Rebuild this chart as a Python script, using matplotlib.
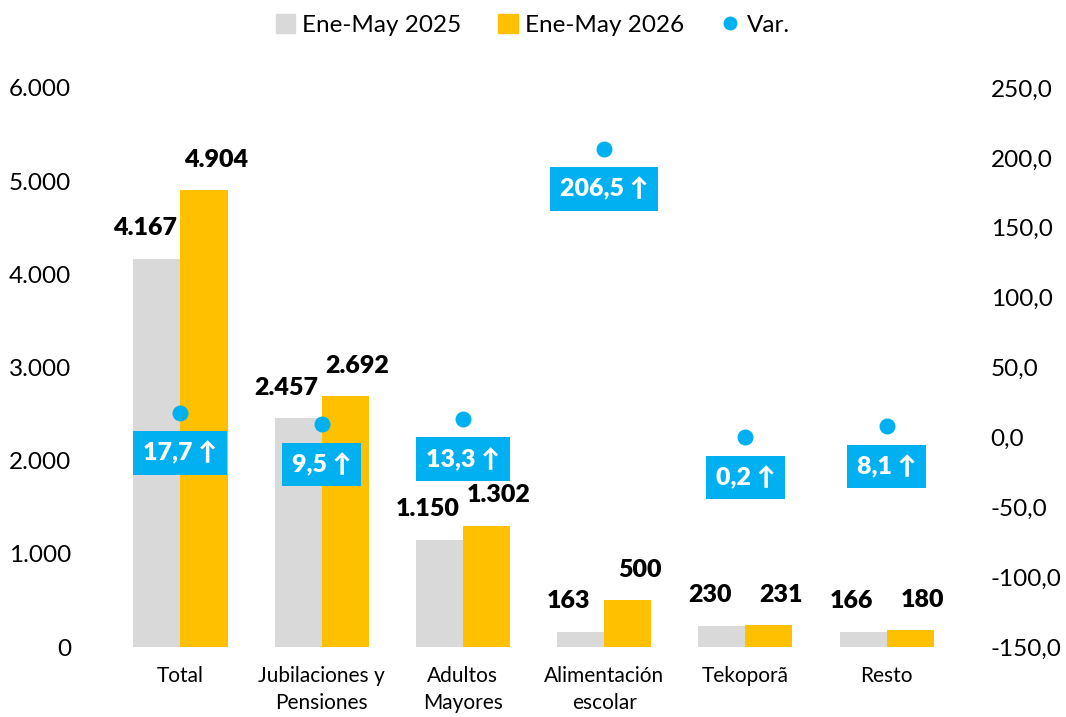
import numpy as np
import matplotlib.pyplot as plt
from matplotlib.lines import Line2D
from matplotlib.patches import Patch

categories = ['Total', 'Jubilaciones y\nPensiones', 'Adultos\nMayores',
              'Alimentación\nescolar', 'Tekoporã', 'Resto']
ene_may_2025 = [4167, 2457, 1150, 163, 230, 166]
ene_may_2026 = [4904, 2692, 1302, 500, 231, 180]
variacion = [17.7, 9.5, 13.3, 206.5, 0.2, 8.1]

gray = '#D9D9D9'
gold = '#FFC000'
blue = '#00B0F0'

plt.rcParams['font.family'] = ['Lato', 'DejaVu Sans']

def miles(v):
    return f'{v:,.0f}'.replace(',', '.')

def coma(v):
    return f'{v:.1f}'.replace('.', ',')

fig = plt.figure(figsize=(10.66, 7.17), dpi=100)
ax = fig.add_axes([0.103, 0.0976, 0.795, 0.7797])
ax2 = ax.twinx()

x = np.arange(len(categories))
w = 1 / 3
b1 = ax.bar(x - w / 2, ene_may_2025, w, color=gray)
b2 = ax.bar(x + w / 2, ene_may_2026, w, color=gold)

for xi, v in zip(x, ene_may_2025):
    ax.annotate(miles(v), (xi - w / 2, v), xytext=(-8.6, 22), textcoords='offset points',
                ha='center', va='center', fontsize=18, fontweight='heavy')
for xi, v in zip(x, ene_may_2026):
    ax.annotate(miles(v), (xi + w / 2, v), xytext=(8.6, 22), textcoords='offset points',
                ha='center', va='center', fontsize=18, fontweight='heavy')

ax2.scatter(x, variacion, s=110, color=blue, zorder=5)
for xi, v in zip(x, variacion):
    ax2.annotate(coma(v) + ' ↑', (xi, v), xytext=(0, -29), textcoords='offset points',
                 ha='center', va='center', fontsize=18, fontweight='heavy', color='white',
                 bbox=dict(boxstyle='square,pad=0.4', fc=blue, ec='none'))

ax.set_xlim(-0.5, len(categories) - 0.5)
ax.set_ylim(0, 6000)
ax.set_yticks(np.arange(0, 6001, 1000))
ax.set_yticklabels([miles(v) for v in np.arange(0, 6001, 1000)])
ax2.set_ylim(-150, 250)
ax2.set_yticks(np.arange(-150, 251, 50))
ax2.set_yticklabels([coma(v) for v in np.arange(-150, 251, 50)])

ax.set_xticks(x)
ax.set_xticklabels(categories, fontsize=15, linespacing=1.4)
ax.tick_params(axis='x', length=0, pad=14)
ax.tick_params(axis='y', length=0, pad=28, labelsize=17.5)
ax2.tick_params(axis='y', length=0, pad=24, labelsize=17.5)

for a in (ax, ax2):
    for s in a.spines.values():
        s.set_visible(False)

handles = [Patch(color=gray), Patch(color=gold),
           Line2D([], [], marker='o', linestyle='none', color=blue, markersize=9)]
fig.legend(handles, ['Ene-May 2025', 'Ene-May 2026', 'Var.'], loc='center',
           bbox_to_anchor=(0.5, 0.965), ncol=3, frameon=False, fontsize=17.5,
           handlelength=0.8, handleheight=0.8, handletextpad=0.3, columnspacing=1.5)

plt.savefig('out.png', dpi=100)
